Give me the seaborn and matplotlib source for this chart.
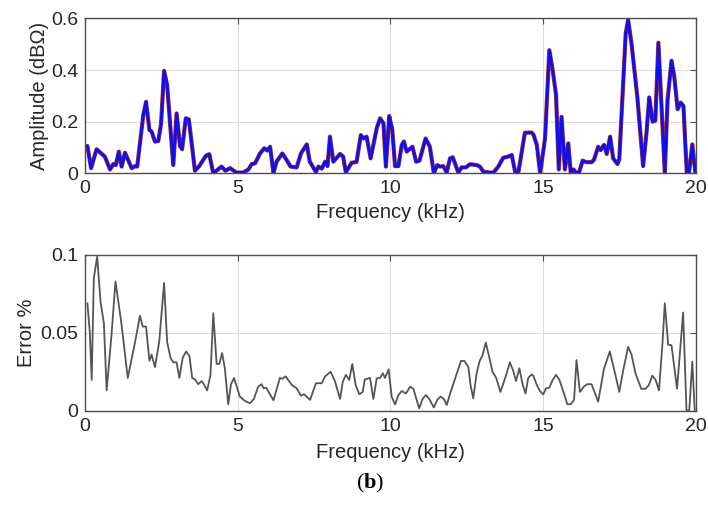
import numpy as np
import pandas as pd
import matplotlib
matplotlib.use("Agg")
import matplotlib.pyplot as plt
import seaborn as sns

# Amplitude spectrum (kHz, dBOhm)
amp_freq = [0.08, 0.20, 0.38, 0.65, 0.82, 0.93, 1.01, 1.11, 1.20, 1.31, 1.53, 1.64, 1.71,
            1.91, 2.00, 2.11, 2.18, 2.29, 2.40, 2.49, 2.59, 2.69, 2.89, 3.00, 3.11, 3.18,
            3.30, 3.40, 3.60, 3.74, 3.96, 4.07, 4.20, 4.47, 4.60, 4.75, 4.96, 5.18, 5.35,
            5.46, 5.57, 5.73, 5.87, 5.97, 6.06, 6.17, 6.27, 6.46, 6.60, 6.73, 6.93, 7.07,
            7.26, 7.36, 7.56, 7.64, 7.75, 7.86, 7.94, 8.02, 8.13, 8.35, 8.45, 8.54, 8.73,
            8.89, 9.03, 9.12, 9.22, 9.35, 9.55, 9.66, 9.77, 9.85, 9.96, 10.06, 10.15, 10.26,
            10.37, 10.44, 10.53, 10.72, 10.84, 10.95, 11.15, 11.29, 11.42, 11.53, 11.62,
            11.73, 11.84, 11.95, 12.04, 12.22, 12.33, 12.47, 12.60, 12.82, 12.93, 13.04,
            13.26, 13.37, 13.53, 13.69, 13.86, 13.97, 14.08, 14.19, 14.40, 14.62, 14.68,
            14.79, 14.90, 15.06, 15.20, 15.31, 15.42, 15.51, 15.60, 15.71, 15.82, 15.90,
            15.99, 16.09, 16.18, 16.29, 16.42, 16.58, 16.66, 16.80, 16.88, 16.99, 17.08,
            17.19, 17.29, 17.43, 17.49, 17.70, 17.78, 17.89, 18.08, 18.27, 18.38, 18.47,
            18.58, 18.67, 18.77, 18.88, 18.98, 19.07, 19.20, 19.29, 19.40, 19.50, 19.59,
            19.70, 19.77, 19.88, 19.98]
amp_vals = [0.106, 0.020, 0.093, 0.065, 0.015, 0.036, 0.032, 0.084, 0.026, 0.080, 0.020,
            0.028, 0.026, 0.226, 0.277, 0.168, 0.162, 0.123, 0.125, 0.190, 0.397, 0.342,
            0.032, 0.232, 0.106, 0.093, 0.213, 0.209, 0.010, 0.028, 0.068, 0.074, 0.000,
            0.026, 0.010, 0.020, 0.003, 0.003, 0.015, 0.036, 0.039, 0.077, 0.097, 0.088,
            0.103, 0.000, 0.045, 0.077, 0.052, 0.026, 0.023, 0.077, 0.112, 0.045, 0.005,
            0.026, 0.018, 0.045, 0.028, 0.142, 0.045, 0.075, 0.065, 0.004, 0.041, 0.044,
            0.148, 0.135, 0.142, 0.058, 0.174, 0.213, 0.194, 0.026, 0.222, 0.168, 0.028,
            0.028, 0.110, 0.123, 0.084, 0.103, 0.045, 0.049, 0.135, 0.103, 0.000, 0.032,
            0.026, 0.028, 0.003, 0.058, 0.062, 0.003, 0.023, 0.023, 0.035, 0.032, 0.026,
            0.006, 0.003, 0.003, 0.026, 0.060, 0.065, 0.071, 0.006, 0.006, 0.157, 0.158,
            0.150, 0.110, 0.000, 0.135, 0.477, 0.400, 0.303, 0.015, 0.219, 0.015, 0.116,
            0.003, 0.015, 0.000, 0.006, 0.049, 0.043, 0.043, 0.052, 0.103, 0.090, 0.110,
            0.075, 0.142, 0.058, 0.036, 0.054, 0.542, 0.594, 0.503, 0.297, 0.028, 0.155,
            0.294, 0.200, 0.204, 0.506, 0.245, 0.000, 0.284, 0.436, 0.374, 0.248, 0.274,
            0.261, 0.000, 0.000, 0.112, 0.003]

# Relative error (kHz, %)
err_freq = [0.08, 0.16, 0.22, 0.29, 0.40, 0.51, 0.62, 0.71, 0.87, 1.00, 1.20, 1.40, 1.64,
            1.80, 1.89, 2.00, 2.11, 2.18, 2.29, 2.43, 2.59, 2.69, 2.80, 2.89, 3.00, 3.09,
            3.20, 3.31, 3.42, 3.51, 3.60, 3.71, 3.82, 3.89, 4.00, 4.11, 4.20, 4.31, 4.40,
            4.49, 4.58, 4.69, 4.78, 4.88, 5.07, 5.24, 5.40, 5.53, 5.67, 5.78, 5.85, 5.93,
            6.17, 6.38, 6.46, 6.57, 6.77, 6.93, 7.07, 7.17, 7.37, 7.56, 7.75, 7.86, 8.04,
            8.18, 8.35, 8.44, 8.54, 8.65, 8.75, 8.86, 8.98, 9.09, 9.16, 9.33, 9.44, 9.55,
            9.66, 9.75, 9.82, 9.94, 10.04, 10.15, 10.26, 10.37, 10.51, 10.64, 10.75, 10.94,
            11.05, 11.16, 11.27, 11.42, 11.53, 11.64, 11.75, 11.84, 11.97, 12.14, 12.31,
            12.42, 12.55, 12.62, 12.71, 12.82, 12.92, 13.01, 13.12, 13.23, 13.34, 13.46,
            13.60, 13.77, 13.91, 14.02, 14.11, 14.22, 14.33, 14.42, 14.51, 14.62, 14.68,
            14.79, 14.89, 15.00, 15.09, 15.20, 15.31, 15.42, 15.53, 15.66, 15.79, 15.90,
            16.01, 16.09, 16.20, 16.33, 16.44, 16.58, 16.80, 16.99, 17.18, 17.35, 17.49,
            17.62, 17.78, 17.89, 18.02, 18.21, 18.35, 18.46, 18.57, 18.68, 18.79, 18.90,
            18.98, 19.09, 19.20, 19.38, 19.58, 19.69, 19.78, 19.88, 19.96]
err_vals = [0.069, 0.050, 0.0197, 0.085, 0.099, 0.070, 0.056, 0.013, 0.049, 0.083, 0.055,
            0.021, 0.044, 0.061, 0.054, 0.054, 0.032, 0.036, 0.028, 0.044, 0.082, 0.044,
            0.034, 0.031, 0.031, 0.021, 0.034, 0.038, 0.035, 0.021, 0.020, 0.017, 0.019,
            0.017, 0.013, 0.023, 0.0625, 0.030, 0.030, 0.037, 0.027, 0.004, 0.017, 0.021,
            0.009, 0.0062, 0.0047, 0.0075, 0.0154, 0.017, 0.0143, 0.0148, 0.0066, 0.021,
            0.0205, 0.022, 0.0165, 0.0143, 0.0096, 0.0105, 0.0069, 0.0176, 0.0176, 0.022,
            0.025, 0.019, 0.0075, 0.0186, 0.023, 0.0197, 0.030, 0.0165, 0.0105, 0.012,
            0.020, 0.021, 0.0075, 0.0207, 0.021, 0.024, 0.021, 0.0265, 0.009, 0.004, 0.010,
            0.0126, 0.011, 0.0154, 0.014, 0.0015, 0.0075, 0.010, 0.0075, 0.002, 0.0069,
            0.009, 0.0075, 0.0036, 0.012, 0.022, 0.032, 0.0319, 0.028, 0.0165, 0.0079,
            0.024, 0.032, 0.0353, 0.0437, 0.0347, 0.025, 0.021, 0.012, 0.0218, 0.031,
            0.0255, 0.019, 0.0272, 0.0165, 0.011, 0.021, 0.0233, 0.0222, 0.0165, 0.0126,
            0.0104, 0.0143, 0.0148, 0.0197, 0.023, 0.0197, 0.0122, 0.0041, 0.0041, 0.0069,
            0.0325, 0.012, 0.0154, 0.017, 0.017, 0.0058, 0.027, 0.038, 0.024, 0.012, 0.026,
            0.041, 0.036, 0.024, 0.014, 0.014, 0.0165, 0.0225, 0.0197, 0.013, 0.042, 0.069,
            0.0424, 0.042, 0.014, 0.063, 0.0, 0.0, 0.0315, 0.0]

amp_df = pd.DataFrame({"freq": amp_freq, "amp": amp_vals})
err_df = pd.DataFrame({"freq": err_freq, "err": err_vals})

sns.set_style("white")
plt.rcParams["font.family"] = ["Liberation Sans", "DejaVu Sans"]
plt.rcParams["mathtext.fontset"] = "custom"
plt.rcParams["mathtext.bf"] = "Liberation Serif:bold"
plt.rcParams["mathtext.rm"] = "Liberation Serif"

text_col = "#262626"
fig = plt.figure(figsize=(7.08, 5.12), dpi=100)
ax1 = fig.add_axes([0.120, 0.6615, 0.863, 0.3025])
ax2 = fig.add_axes([0.120, 0.1980, 0.863, 0.3040])

# Measured (red) and model (blue) amplitude traces
sns.lineplot(data=amp_df, x="freq", y="amp", ax=ax1, color="#b0301a", lw=3.0,
             estimator=None, sort=False)
sns.lineplot(data=amp_df, x="freq", y="amp", ax=ax1, color="#1010ee", lw=2.1,
             estimator=None, sort=False)
sns.lineplot(data=err_df, x="freq", y="err", ax=ax2, color="#555555", lw=1.3,
             estimator=None, sort=False)

def style(ax, yticks, ylim):
    ax.set_xlim(0, 20)
    ax.set_ylim(*ylim)
    ax.set_xticks([0, 5, 10, 15, 20])
    ax.set_yticks(yticks)
    ax.grid(True, color="#dcdcdc", lw=0.8)
    ax.set_axisbelow(True)
    for s in ax.spines.values():
        s.set_color("#4d4d4d")
        s.set_linewidth(1.0)
    ax.tick_params(direction="in", length=4, width=0.8, color="#4d4d4d",
                   top=True, right=True, labelsize=14, labelcolor=text_col, pad=5)

style(ax1, [0, 0.2, 0.4, 0.6], (0, 0.6))
ax1.set_yticklabels(["0", "0.2", "0.4", "0.6"])
ax1.set_xlabel("Frequency (kHz)", fontsize=14.5, color=text_col, labelpad=4)
ax1.set_ylabel("Amplitude (dB\u03a9)", fontsize=14.5, color=text_col, labelpad=1)

style(ax2, [0, 0.05, 0.1], (0, 0.1))
ax2.set_yticklabels(["0", "0.05", "0.1"])
ax2.set_xlabel("Frequency (kHz)", fontsize=14.5, color=text_col, labelpad=6)
ax2.set_ylabel("Error %", fontsize=14.5, color=text_col, labelpad=3)

fig.text(0.523, 0.055, r"($\mathbf{b}$)", ha="center", va="center",
         fontsize=16, family="Liberation Serif", color="#000000")

fig.savefig("out.png", dpi=100)
